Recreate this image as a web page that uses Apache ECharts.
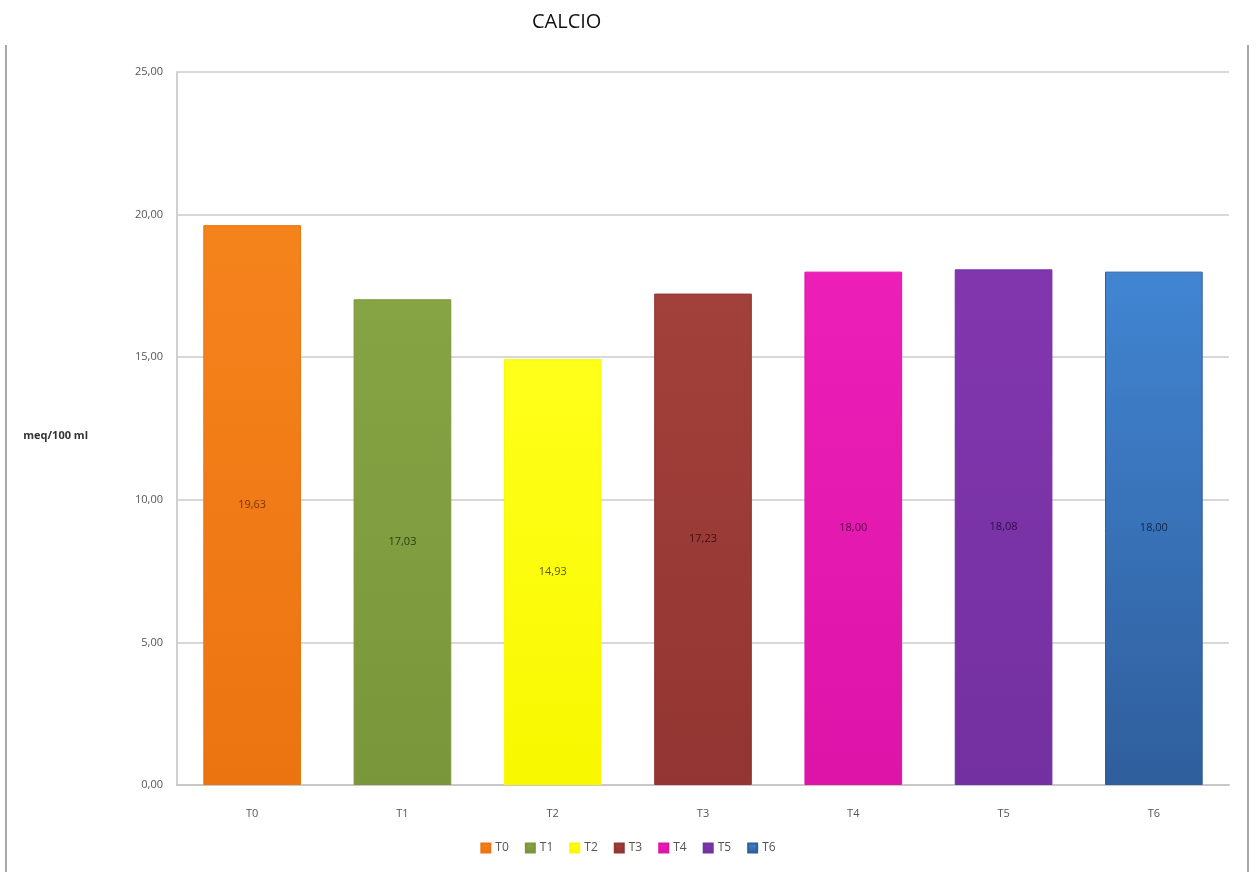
<!DOCTYPE html>
<html>
<head>
<meta charset="utf-8">
<script src="https://cdn.jsdelivr.net/npm/echarts@6/dist/echarts.min.js"></script>
<style>
  html, body { margin: 0; padding: 0; background: #fff; }
  #chart { width: 1256px; height: 872px; }
</style>
</head>
<body>
<div id="chart"></div>
<script>
// Calcio per trattamento (meq/100 ml)
const categories = ['T0', 'T1', 'T2', 'T3', 'T4', 'T5', 'T6'];
const values = [19.63, 17.03, 14.93, 17.23, 18.00, 18.08, 18.00];
const yTicks = { min: 0, max: 25, interval: 5 };

const topColors = ['#F5831C', '#86A444', '#FFFF1A', '#A2403B', '#EC1FB8', '#8236AE', '#4185D2'];
const bottomColors = ['#EC7410', '#7A963A', '#F8F800', '#933532', '#DD14A8', '#7330A0', '#2F5E9C'];
const labelColors = ['#7A3206', '#2F3D12', '#5B5A08', '#3E1210', '#5C0848', '#2F0E48', '#10284A'];

const fmt = v => v.toFixed(2).replace('.', ',');

const series = categories.map((name, i) => ({
  name: name,
  type: 'bar',
  stack: 'all',
  barWidth: '65%',
  data: categories.map((c, j) => (j === i ? values[i] : '-')),
  itemStyle: {
    color: new echarts.graphic.LinearGradient(0, 0, 0, 1, [
      { offset: 0, color: topColors[i] },
      { offset: 1, color: bottomColors[i] }
    ]),
    borderColor: bottomColors[i],
    borderWidth: 1
  },
  label: {
    show: true,
    position: 'inside',
    formatter: p => fmt(p.value),
    color: labelColors[i],
    fontFamily: 'Open Sans',
    fontSize: 11
  }
}));

const chart = echarts.init(document.getElementById('chart'));
chart.setOption({
  animation: false,
  backgroundColor: '#ffffff',
  title: {
    text: 'CALCIO',
    left: 527,
    top: 7,
    textStyle: { fontFamily: 'Open Sans', fontSize: 20, fontWeight: 'normal', color: '#111' }
  },
  color: topColors,
  legend: {
    data: categories,
    bottom: 13,
    left: 'center',
    itemWidth: 9,
    itemHeight: 9,
    itemGap: 16,
    icon: 'rect',
    textStyle: { fontFamily: 'Open Sans', fontSize: 12, color: '#555' }
  },
  grid: { left: 177, right: 27, top: 72, bottom: 87, outerBoundsMode: 'none' },
  xAxis: {
    type: 'category',
    data: categories,
    axisLine: { lineStyle: { color: '#c8c8c8', width: 2 } },
    axisTick: { show: false },
    axisLabel: { fontFamily: 'Open Sans', fontSize: 11, color: '#555', margin: 23 }
  },
  yAxis: {
    type: 'value',
    min: yTicks.min,
    max: yTicks.max,
    interval: yTicks.interval,
    name: 'meq/100 ml',
    nameLocation: 'middle',
    nameRotate: 0,
    nameGap: 89,
    nameTextStyle: {
      fontFamily: 'Open Sans', fontSize: 11, fontWeight: 'bold', color: '#333',
      verticalAlign: 'top', padding: [2, 0, 0, 0]
    },
    axisLine: { show: true, lineStyle: { color: '#d0d0d0', width: 2 } },
    axisTick: { show: false },
    axisLabel: { formatter: v => fmt(v), fontFamily: 'Open Sans', fontSize: 11, color: '#555', margin: 14 },
    splitLine: { lineStyle: { color: '#d8d8d8', width: 2 } }
  },
  graphic: [
    { type: 'line', shape: { x1: 6, y1: 45, x2: 6, y2: 872 }, style: { stroke: '#a8a8a8', lineWidth: 2 } },
    { type: 'line', shape: { x1: 1248, y1: 45, x2: 1248, y2: 872 }, style: { stroke: '#a8a8a8', lineWidth: 2 } }
  ],
  series: series
});
</script>
</body>
</html>
